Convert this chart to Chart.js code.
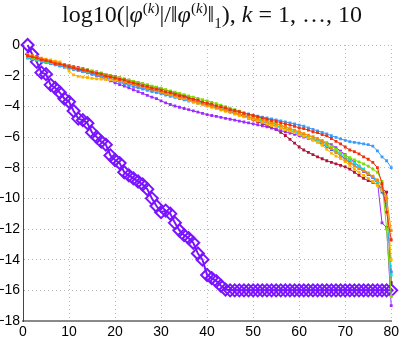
<!DOCTYPE html>
<html>
<head>
    <meta charset='UTF-8'>
    <script src="https://cdn.jsdelivr.net/npm/chart.js"></script>
    <style>
        body { margin: 0; background: #fff; }
        #wrap { position: relative; width: 402px; height: 346px; }
        #title {
            position: absolute; left: 0; top: 1px; width: 424px; text-align: center;
            font-family: 'Liberation Serif', serif; font-size: 24px; color: #111;
            white-space: nowrap;
        }
        #title sup, #title sub { font-size: 15px; line-height: 0; }
    </style>
</head>
<title>log10 phi</title>

<body>
    <div id="wrap">
        <div id="title">log10(|<i>φ</i><sup>(<i>k</i>)</sup>|/‖<i>φ</i><sup>(<i>k</i>)</sup>‖<sub>1</sub>), <i>k</i> = 1, …, 10</div>
        <canvas id="myChart" width="402" height="346"></canvas>
    </div>
    <script>
        const xs = [
            1, 2, 3, 4, 5, 6, 7, 8, 9, 10,
            11, 12, 13, 14, 15, 16, 17, 18, 19, 20,
            21, 22, 23, 24, 25, 26, 27, 28, 29, 30,
            31, 32, 33, 34, 35, 36, 37, 38, 39, 40,
            41, 42, 43, 44, 45, 46, 47, 48, 49, 50,
            51, 52, 53, 54, 55, 56, 57, 58, 59, 60,
            61, 62, 63, 64, 65, 66, 67, 68, 69, 70,
            71, 72, 73, 74, 75, 76, 77, 78, 79, 80
        ];

        // thick line with diamonds
        const diamond = [
            0, -0.6, -1.1, -1.8, -1.9, -2.6, -2.8, -3.1, -3.5, -3.7,
            -4.3, -4.8, -4.9, -5.1, -5.7, -6.0, -6.3, -6.5, -7.2, -7.5,
            -7.7, -8.3, -8.5, -8.7, -8.9, -9.1, -9.4, -10.0, -10.5, -10.9,
            -10.8, -11.0, -11.6, -12.1, -12.4, -12.6, -12.9, -13.6, -14.0, -15.0,
            -15.2, -15.4, -15.7, -15.95, -16, -16, -16, -16, -16, -16,
            -16, -16, -16, -16, -16, -16, -16, -16, -16, -16,
            -16, -16, -16, -16, -16, -16, -16, -16, -16, -16,
            -16, -16, -16, -16, -16, -16, -16, -16, -16, -16
        ];

        const red = [
            -0.70, -0.78, -0.85, -0.97, -1.02, -1.08, -1.21, -1.25, -1.33, -1.42,
            -1.47, -1.58, -1.62, -1.66, -1.79, -1.85, -1.90, -2.02, -2.08, -2.15,
            -2.24, -2.28, -2.40, -2.47, -2.55, -2.66, -2.70, -2.82, -2.88, -2.95,
            -3.06, -3.10, -3.21, -3.30, -3.35, -3.47, -3.55, -3.60, -3.72, -3.80,
            -3.86, -3.97, -4.02, -4.10, -4.22, -4.27, -4.35, -4.46, -4.52, -4.60,
            -4.68, -4.75, -4.83, -4.92, -4.98, -5.06, -5.15, -5.22, -5.30, -5.40,
            -5.45, -5.55, -5.66, -5.72, -5.85, -5.93, -6.10, -6.28, -6.45, -6.65,
            -6.85, -6.95, -7.10, -7.30, -7.45, -7.65, -8.00, -9.05, -10.90, -12.70
        ];
        const orange = [
            -0.62, -0.70, -0.80, -0.86, -0.95, -1.05, -1.10, -1.22, -1.30, -1.38,
            -1.45, -1.52, -1.63, -1.70, -1.76, -1.88, -1.95, -2.03, -2.12, -2.20,
            -2.30, -2.38, -2.43, -2.55, -2.62, -2.70, -2.80, -2.88, -2.97, -3.05,
            -3.12, -3.22, -3.28, -3.40, -3.47, -3.55, -3.66, -3.74, -3.82, -3.92,
            -4.00, -4.08, -4.16, -4.25, -4.33, -4.40, -4.48, -4.58, -4.66, -4.74,
            -4.82, -4.90, -4.98, -5.08, -5.16, -5.25, -5.35, -5.45, -5.55, -5.66,
            -5.78, -5.88, -6.00, -6.12, -6.30, -6.50, -6.75, -7.00, -7.25, -7.50,
            -7.70, -7.90, -8.05, -8.20, -8.40, -8.55, -8.80, -9.20, -10.00, -12.10
        ];
        const gold = [
            -0.65, -0.72, -0.80, -0.88, -0.92, -0.98, -1.05, -1.10, -1.35, -1.70,
            -1.95, -2.05, -2.10, -2.12, -2.18, -2.20, -2.22, -2.25, -2.28, -2.30,
            -2.34, -2.40, -2.48, -2.55, -2.60, -2.72, -2.80, -2.86, -2.95, -3.05,
            -3.15, -3.25, -3.35, -3.42, -3.50, -3.62, -3.70, -3.80, -3.90, -3.98,
            -4.06, -4.15, -4.25, -4.32, -4.40, -4.50, -4.60, -4.68, -4.75, -4.85,
            -4.95, -5.05, -5.15, -5.25, -5.32, -5.42, -5.52, -5.62, -5.72, -5.85,
            -5.95, -6.05, -6.20, -6.35, -6.55, -6.80, -7.05, -7.25, -7.40, -7.60,
            -7.85, -8.10, -8.30, -8.50, -8.70, -8.90, -9.15, -9.50, -9.90, -14.00
        ];
        const green = [
            -0.75, -0.85, -0.92, -1.00, -1.06, -1.12, -1.18, -1.26, -1.32, -1.38,
            -1.45, -1.52, -1.58, -1.63, -1.70, -1.78, -1.85, -1.92, -2.00, -2.08,
            -2.15, -2.22, -2.30, -2.38, -2.45, -2.52, -2.60, -2.68, -2.75, -2.82,
            -2.92, -3.00, -3.08, -3.15, -3.24, -3.32, -3.40, -3.48, -3.56, -3.65,
            -3.74, -3.82, -3.92, -4.02, -4.12, -4.22, -4.32, -4.42, -4.52, -4.62,
            -4.72, -4.82, -4.92, -5.02, -5.12, -5.22, -5.35, -5.48, -5.58, -5.70,
            -5.80, -5.90, -6.00, -6.10, -6.22, -6.40, -6.60, -6.80, -7.00, -7.20,
            -7.35, -7.50, -7.62, -7.75, -7.90, -8.10, -8.30, -8.90, -12.00, -16.40
        ];
        const cyan = [
            -0.80, -0.88, -0.95, -1.02, -1.10, -1.15, -1.22, -1.30, -1.36, -1.44,
            -1.50, -1.57, -1.64, -1.72, -1.80, -1.86, -1.94, -2.02, -2.10, -2.18,
            -2.26, -2.34, -2.42, -2.50, -2.58, -2.66, -2.74, -2.84, -2.92, -3.00,
            -3.08, -3.16, -3.24, -3.34, -3.42, -3.50, -3.60, -3.70, -3.78, -3.86,
            -3.95, -4.05, -4.14, -4.22, -4.30, -4.40, -4.50, -4.58, -4.68, -4.78,
            -4.88, -4.98, -5.06, -5.16, -5.26, -5.36, -5.46, -5.56, -5.66, -5.78,
            -5.90, -6.02, -6.15, -6.28, -6.42, -6.58, -6.75, -6.92, -7.10, -7.30,
            -7.50, -7.70, -7.90, -8.10, -8.35, -8.60, -8.95, -9.40, -10.00, -15.00
        ];
        const skyblue = [
            -0.85, -0.92, -1.00, -1.08, -1.15, -1.22, -1.30, -1.38, -1.45, -1.52,
            -1.60, -1.66, -1.74, -1.82, -1.90, -1.98, -2.06, -2.14, -2.24, -2.34,
            -2.44, -2.54, -2.64, -2.72, -2.80, -2.88, -2.96, -3.04, -3.10, -3.18,
            -3.26, -3.34, -3.42, -3.50, -3.58, -3.66, -3.72, -3.80, -3.86, -3.92,
            -3.98, -4.04, -4.10, -4.16, -4.22, -4.28, -4.36, -4.44, -4.50, -4.58,
            -4.64, -4.70, -4.76, -4.82, -4.88, -4.95, -5.02, -5.08, -5.14, -5.22,
            -5.30, -5.40, -5.50, -5.60, -5.70, -5.80, -5.92, -6.02, -6.12, -6.22,
            -6.30, -6.35, -6.40, -6.45, -6.50, -6.60, -6.90, -7.30, -7.55, -8.00
        ];
        const blue = [
            -0.78, -0.86, -0.96, -1.04, -1.12, -1.20, -1.26, -1.34, -1.40, -1.48,
            -1.55, -1.62, -1.70, -1.76, -1.84, -1.92, -2.00, -2.10, -2.18, -2.28,
            -2.36, -2.46, -2.54, -2.62, -2.70, -2.78, -2.86, -2.95, -3.02, -3.10,
            -3.18, -3.26, -3.34, -3.42, -3.50, -3.58, -3.66, -3.75, -3.84, -3.92,
            -4.02, -4.10, -4.18, -4.28, -4.36, -4.46, -4.54, -4.62, -4.72, -4.80,
            -4.90, -5.00, -5.10, -5.20, -5.30, -5.40, -5.50, -5.60, -5.70, -5.80,
            -5.92, -6.04, -6.18, -6.32, -6.48, -6.64, -6.82, -7.00, -7.20, -7.40,
            -7.62, -7.85, -8.05, -8.25, -8.45, -8.65, -9.05, -9.60, -10.30, -14.80
        ];
        const purple = [
            -0.72, -0.80, -0.90, -0.98, -1.08, -1.16, -1.24, -1.32, -1.40, -1.48,
            -1.56, -1.64, -1.72, -1.80, -1.90, -2.00, -2.10, -2.22, -2.34, -2.46,
            -2.58, -2.68, -2.80, -2.92, -3.04, -3.16, -3.28, -3.40, -3.50, -3.64,
            -3.78, -3.88, -3.98, -4.06, -4.14, -4.22, -4.30, -4.38, -4.46, -4.54,
            -4.60, -4.66, -4.72, -4.78, -4.84, -4.90, -4.96, -5.02, -5.08, -5.14,
            -5.20, -5.27, -5.34, -5.42, -5.50, -5.58, -5.66, -5.74, -5.82, -5.90,
            -6.00, -6.08, -6.16, -6.22, -6.30, -6.38, -6.50, -6.70, -6.92, -7.15,
            -7.40, -7.65, -7.90, -8.15, -8.40, -8.60, -8.85, -11.60, -11.90, -17.00
        ];
        const maroon = [
            -0.68, -0.76, -0.85, -0.92, -1.00, -1.08, -1.15, -1.22, -1.28, -1.35,
            -1.42, -1.48, -1.55, -1.62, -1.70, -1.76, -1.84, -1.92, -2.00, -2.06,
            -2.14, -2.22, -2.30, -2.38, -2.46, -2.54, -2.62, -2.70, -2.78, -2.86,
            -2.94, -3.02, -3.12, -3.22, -3.32, -3.42, -3.52, -3.62, -3.72, -3.82,
            -3.92, -4.02, -4.12, -4.22, -4.32, -4.42, -4.52, -4.64, -4.76, -4.88,
            -5.00, -5.12, -5.25, -5.38, -5.52, -5.70, -5.90, -6.15, -6.40, -6.65,
            -6.85, -7.00, -7.15, -7.30, -7.42, -7.55, -7.65, -7.75, -7.85, -7.95,
            -8.10, -8.30, -8.50, -8.70, -8.85, -8.95, -9.10, -9.35, -9.60, -15.50
        ];

        const xTicks = [0, 10, 20, 30, 40, 50, 60, 70, 80];
        const yTicks = [0, -2, -4, -6, -8, -10, -12, -14, -16, -18];

        const thin = [
            [red, '#f2300f'],
            [orange, '#ff8a00'],
            [gold, '#ffb400'],
            [green, '#7ede00'],
            [cyan, '#10e0e0'],
            [skyblue, '#3a9cff'],
            [blue, '#3a5cff'],
            [purple, '#9a2cff'],
            [maroon, '#b0143c']
        ];

        function pts(ys) {
            return xs.map((x, i) => ({ x: x, y: ys[i] }));
        }

        const datasets = thin.map(([ys, col]) => ({
            data: pts(ys),
            borderColor: col,
            backgroundColor: col,
            borderWidth: 1,
            pointStyle: 'rect',
            pointRadius: 2,
            pointBorderWidth: 0,
            order: 1,
            clip: 6
        }));
        datasets.push({
            data: pts(diamond),
            borderColor: '#7a14ff',
            backgroundColor: 'rgba(255,255,255,0)',
            borderWidth: 2,
            pointStyle: 'rectRot',
            pointRadius: 6,
            pointBorderWidth: 2,
            order: 2,
            clip: false
        });

        const config = {
            type: 'line',
            data: { datasets: datasets },
            options: {
                animation: false,
                responsive: false,
                devicePixelRatio: 1,
                layout: { padding: { left: 0, right: 8, top: 45, bottom: 0 } },
                plugins: { legend: { display: false }, tooltip: { enabled: false } },
                scales: {
                    x: {
                        type: 'linear', min: 0, max: 80,
                        afterFit: (a) => { a.height = 25; },
                        afterBuildTicks: (a) => { a.ticks = xTicks.map(v => ({ value: v })); },
                        ticks: { padding: 3, color: '#000', font: { family: 'Liberation Sans', size: 14 } },
                        grid: { color: '#b8b8b8', lineWidth: 1, drawTicks: false },
                        border: { display: true, color: '#8a8a8a', width: 2, dash: [1, 3] }
                    },
                    y: {
                        type: 'linear', min: -18, max: 0,
                        afterFit: (a) => { a.width = 23; },
                        afterBuildTicks: (a) => { a.ticks = yTicks.map(v => ({ value: v })); },
                        ticks: {
                            padding: 3, color: '#000', font: { family: 'Liberation Sans', size: 14 },
                            callback: (v) => v < 0 ? '\u2212' + (-v) : String(v)
                        },
                        grid: { color: '#b8b8b8', lineWidth: 1, drawTicks: false },
                        border: { display: true, color: '#444', width: 1, dash: [1, 3] }
                    }
                }
            }
        };
        const myChart = new Chart(document.getElementById('myChart'), config);
    </script>
</body>

</html>
